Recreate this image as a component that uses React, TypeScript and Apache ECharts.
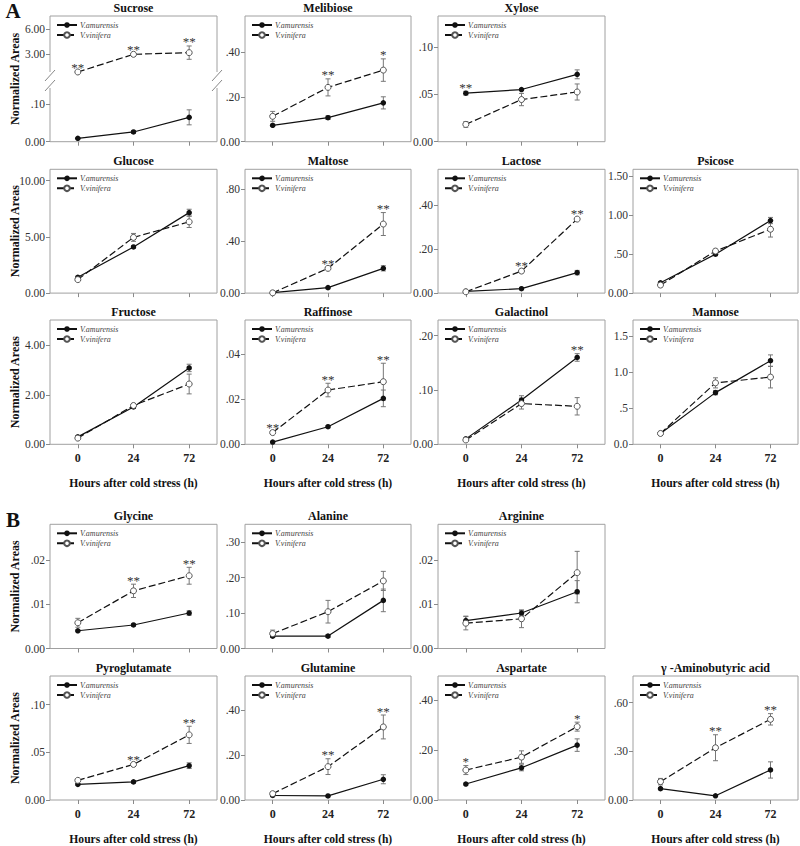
import React, { useEffect, useRef } from 'react';
import * as echarts from 'echarts';

const FONT = 'Liberation Serif';
const hours = ['0', '24', '72'];
const nameAmu = 'V.amurensis';
const nameVin = 'V.vinifera';
const yTitle = 'Normalized Areas';
const xTitle = 'Hours after cold stress (h)';

// ---- data (means and error bars) ----
const sucroseAmu = [0.009, 0.026, 0.065];
const sucroseAmuSE = [0.002, 0.003, 0.02];
const sucroseVin = [0.88, 3.0, 3.2];
const sucroseVinSE = [0.05, 0.1, 0.8];
const sucroseSig = ['**', '**', '**'];

const melibioseAmu = [0.073, 0.107, 0.173];
const melibioseAmuSE = [0.005, 0.008, 0.027];
const melibioseVin = [0.113, 0.242, 0.319];
const melibioseVinSE = [0.022, 0.038, 0.05];
const melibioseSig = ['', '**', '*'];

const xyloseAmu = [0.0513, 0.0552, 0.0713];
const xyloseAmuSE = [0.002, 0.001, 0.0047];
const xyloseVin = [0.0183, 0.0446, 0.0526];
const xyloseVinSE = [0.003, 0.0065, 0.0085];
const xyloseSig = ['**', '', ''];

const glucoseAmu = [1.4, 4.1, 7.15];
const glucoseAmuSE = [0.1, 0.1, 0.3];
const glucoseVin = [1.2, 4.95, 6.33];
const glucoseVinSE = [0.1, 0.35, 0.5];
const glucoseSig = ['', '', ''];

const maltoseAmu = [0.003, 0.042, 0.19];
const maltoseAmuSE = [0.002, 0.005, 0.02];
const maltoseVin = [0.002, 0.19, 0.53];
const maltoseVinSE = [0.002, 0.01, 0.088];
const maltoseSig = ['', '**', '**'];

const lactoseAmu = [0.008, 0.02, 0.093];
const lactoseAmuSE = [0.002, 0.003, 0.01];
const lactoseVin = [0.006, 0.1, 0.336];
const lactoseVinSE = [0.002, 0.006, 0.005];
const lactoseSig = ['', '**', '**'];

const psicoseAmu = [0.132, 0.5, 0.932];
const psicoseAmuSE = [0.01, 0.02, 0.04];
const psicoseVin = [0.103, 0.54, 0.82];
const psicoseVinSE = [0.01, 0.02, 0.1];
const psicoseSig = ['', '', ''];

const fructoseAmu = [0.3, 1.51, 3.09];
const fructoseAmuSE = [0.05, 0.06, 0.15];
const fructoseVin = [0.25, 1.57, 2.44];
const fructoseVinSE = [0.05, 0.06, 0.4];
const fructoseSig = ['', '', ''];

const raffinoseAmu = [0.001, 0.0078, 0.0204];
const raffinoseAmuSE = [0.0003, 0.0004, 0.0037];
const raffinoseVin = [0.0052, 0.0241, 0.0278];
const raffinoseVinSE = [0.0004, 0.003, 0.0082];
const raffinoseSig = ['**', '**', '**'];

const galactinolAmu = [0.01, 0.0815, 0.16];
const galactinolAmuSE = [0.002, 0.008, 0.007];
const galactinolVin = [0.008, 0.075, 0.07];
const galactinolVinSE = [0.002, 0.01, 0.016];
const galactinolSig = ['', '', '**'];

const mannoseAmu = [0.15, 0.715, 1.157];
const mannoseAmuSE = [0.01, 0.03, 0.08];
const mannoseVin = [0.15, 0.85, 0.93];
const mannoseVinSE = [0.01, 0.07, 0.15];
const mannoseSig = ['', '', ''];

const glycineAmu = [0.004, 0.0053, 0.008];
const glycineAmuSE = [0.0002, 0.0002, 0.0005];
const glycineVin = [0.0058, 0.013, 0.0164];
const glycineVinSE = [0.001, 0.0015, 0.0019];
const glycineSig = ['', '**', '**'];

const alanineAmu = [0.035, 0.035, 0.136];
const alanineAmuSE = [0.004, 0.004, 0.032];
const alanineVin = [0.042, 0.104, 0.191];
const alanineVinSE = [0.01, 0.032, 0.027];
const alanineSig = ['', '', ''];

const arginineAmu = [0.0063, 0.008, 0.0128];
const arginineAmuSE = [0.001, 0.0006, 0.0025];
const arginineVin = [0.0057, 0.0067, 0.0171];
const arginineVinSE = [0.0015, 0.002, 0.0048];
const arginineSig = ['', '', ''];

const pyroAmu = [0.0164, 0.019, 0.036];
const pyroAmuSE = [0.001, 0.001, 0.003];
const pyroVin = [0.0206, 0.0373, 0.0683];
const pyroVinSE = [0.001, 0.001, 0.009];
const pyroSig = ['', '**', '**'];

const glutamineAmu = [0.02, 0.018, 0.092];
const glutamineAmuSE = [0.003, 0.002, 0.02];
const glutamineVin = [0.028, 0.148, 0.324];
const glutamineVinSE = [0.003, 0.035, 0.053];
const glutamineSig = ['', '**', '**'];

const aspartateAmu = [0.064, 0.129, 0.22];
const aspartateAmuSE = [0.004, 0.012, 0.025];
const aspartateVin = [0.12, 0.172, 0.294];
const aspartateVinSE = [0.018, 0.025, 0.018];
const aspartateSig = ['*', '', '*'];

const gabaAmu = [0.07, 0.026, 0.185];
const gabaAmuSE = [0.005, 0.003, 0.05];
const gabaVin = [0.113, 0.322, 0.497];
const gabaVinSE = [0.02, 0.08, 0.035];
const gabaSig = ['', '**', '**'];

// ---- layout ----
const colLeft = [50, 245, 438, 633];
const colWidth = [167, 166, 167, 165];
const rowTop = [16, 169.3, 320, 524.3, 676];
const rowHeight = [125.7, 123.8, 124.3, 124.2, 124];
const bottomRows = [2, 4];

type Panel = {
  title: string; amu: number[]; amuSE: number[]; vin: number[]; vinSE: number[]; sig: string[];
  max: number; step: number; dec: number; row: number; col: number;
};

const panels: Panel[] = [
  { title: 'Melibiose', amu: melibioseAmu, amuSE: melibioseAmuSE, vin: melibioseVin, vinSE: melibioseVinSE, sig: melibioseSig, max: 0.56, step: 0.2, dec: 2, row: 0, col: 1 },
  { title: 'Xylose', amu: xyloseAmu, amuSE: xyloseAmuSE, vin: xyloseVin, vinSE: xyloseVinSE, sig: xyloseSig, max: 0.133, step: 0.05, dec: 2, row: 0, col: 2 },
  { title: 'Glucose', amu: glucoseAmu, amuSE: glucoseAmuSE, vin: glucoseVin, vinSE: glucoseVinSE, sig: glucoseSig, max: 11, step: 5, dec: 2, row: 1, col: 0 },
  { title: 'Maltose', amu: maltoseAmu, amuSE: maltoseAmuSE, vin: maltoseVin, vinSE: maltoseVinSE, sig: maltoseSig, max: 0.95, step: 0.4, dec: 2, row: 1, col: 1 },
  { title: 'Lactose', amu: lactoseAmu, amuSE: lactoseAmuSE, vin: lactoseVin, vinSE: lactoseVinSE, sig: lactoseSig, max: 0.562, step: 0.2, dec: 2, row: 1, col: 2 },
  { title: 'Psicose', amu: psicoseAmu, amuSE: psicoseAmuSE, vin: psicoseVin, vinSE: psicoseVinSE, sig: psicoseSig, max: 1.59, step: 0.5, dec: 2, row: 1, col: 3 },
  { title: 'Fructose', amu: fructoseAmu, amuSE: fructoseAmuSE, vin: fructoseVin, vinSE: fructoseVinSE, sig: fructoseSig, max: 5.03, step: 2, dec: 2, row: 2, col: 0 },
  { title: 'Raffinose', amu: raffinoseAmu, amuSE: raffinoseAmuSE, vin: raffinoseVin, vinSE: raffinoseVinSE, sig: raffinoseSig, max: 0.0552, step: 0.02, dec: 2, row: 2, col: 1 },
  { title: 'Galactinol', amu: galactinolAmu, amuSE: galactinolAmuSE, vin: galactinolVin, vinSE: galactinolVinSE, sig: galactinolSig, max: 0.229, step: 0.1, dec: 2, row: 2, col: 2 },
  { title: 'Mannose', amu: mannoseAmu, amuSE: mannoseAmuSE, vin: mannoseVin, vinSE: mannoseVinSE, sig: mannoseSig, max: 1.72, step: 0.5, dec: 1, row: 2, col: 3 },
  { title: 'Glycine', amu: glycineAmu, amuSE: glycineAmuSE, vin: glycineVin, vinSE: glycineVinSE, sig: glycineSig, max: 0.028, step: 0.01, dec: 2, row: 3, col: 0 },
  { title: 'Alanine', amu: alanineAmu, amuSE: alanineAmuSE, vin: alanineVin, vinSE: alanineVinSE, sig: alanineSig, max: 0.351, step: 0.1, dec: 2, row: 3, col: 1 },
  { title: 'Arginine', amu: arginineAmu, amuSE: arginineAmuSE, vin: arginineVin, vinSE: arginineVinSE, sig: arginineSig, max: 0.028, step: 0.01, dec: 2, row: 3, col: 2 },
  { title: 'Pyroglutamate', amu: pyroAmu, amuSE: pyroAmuSE, vin: pyroVin, vinSE: pyroVinSE, sig: pyroSig, max: 0.13, step: 0.05, dec: 2, row: 4, col: 0 },
  { title: 'Glutamine', amu: glutamineAmu, amuSE: glutamineAmuSE, vin: glutamineVin, vinSE: glutamineVinSE, sig: glutamineSig, max: 0.55, step: 0.2, dec: 2, row: 4, col: 1 },
  { title: 'Aspartate', amu: aspartateAmu, amuSE: aspartateAmuSE, vin: aspartateVin, vinSE: aspartateVinSE, sig: aspartateSig, max: 0.497, step: 0.2, dec: 2, row: 4, col: 2 },
  { title: 'γ -Aminobutyric acid', amu: gabaAmu, amuSE: gabaAmuSE, vin: gabaVin, vinSE: gabaVinSE, sig: gabaSig, max: 0.764, step: 0.3, dec: 2, row: 4, col: 3 },
];

const BORDER = '#a0a0a0';
const TICK = '#8a8a8a';

function fmt(dec: number) {
  return (v: number) => {
    if (Math.abs(v) < 1e-12) return (0).toFixed(dec);
    const s = v.toFixed(dec);
    return s.startsWith('0.') ? s.slice(1) : s;
  };
}

function ticksFor(max: number, step: number) {
  const out: number[] = [];
  for (let k = 0; k * step <= max + 1e-9; k++) out.push(+(k * step).toFixed(8));
  return out;
}

function errSeries(gi: number, vals: number[], se: number[], z: number) {
  return {
    type: 'custom', xAxisIndex: gi, yAxisIndex: gi, silent: true, z,
    itemStyle: { color: '#777' },
    encode: { x: 0, y: 1 },
    data: vals.map((v, i) => [i, v, se[i]]),
    renderItem: (params: any, api: any) => {
      const i = api.value(0), v = api.value(1), e = api.value(2);
      const t = api.coord([i, v + e]);
      const b = api.coord([i, Math.max(0, v - e)]);
      const w = 2.5;
      const style = { stroke: '#777', lineWidth: 1 };
      return {
        type: 'group',
        children: [
          { type: 'line', shape: { x1: t[0], y1: t[1], x2: b[0], y2: b[1] }, style },
          { type: 'line', shape: { x1: t[0] - w, y1: t[1], x2: t[0] + w, y2: t[1] }, style },
          { type: 'line', shape: { x1: b[0] - w, y1: b[1], x2: b[0] + w, y2: b[1] }, style },
        ],
      };
    },
  };
}

function sigSeries(gi: number, sig: string[], tops: number[]) {
  const data: any[] = [];
  sig.forEach((s, i) => { if (s) data.push([i, tops[i], s]); });
  return {
    type: 'custom', xAxisIndex: gi, yAxisIndex: gi, silent: true, z: 6,
    itemStyle: { color: '#333' },
    encode: { x: 0, y: 1 },
    data,
    renderItem: (params: any, api: any) => {
      const p = api.coord([api.value(0), api.value(1)]);
      return {
        type: 'text', x: p[0], y: p[1] - 4,
        style: { text: data[params.dataIndex][2], fontSize: 13, fontFamily: FONT, fill: '#333', align: 'center', verticalAlign: 'middle' },
      };
    },
  };
}

function lineSeries(gi: number, name: string, vals: number[], dashed: boolean) {
  return {
    type: 'line', name, xAxisIndex: gi, yAxisIndex: gi, data: vals, z: dashed ? 4 : 3,
    symbol: 'circle', symbolSize: dashed ? 6 : 5.5,
    lineStyle: { color: '#111', width: 1.2, type: dashed ? [7, 3] : 'solid' },
    itemStyle: dashed ? { color: '#fff', borderColor: '#555', borderWidth: 1 } : { color: '#111', borderWidth: 0 },
  };
}

function legendAt(left: number, top: number) {
  return {
    left: left + 6, top: top + 5, orient: 'vertical', padding: 0, itemGap: 2,
    itemWidth: 20, itemHeight: 7, selectedMode: false,
    data: [nameAmu, nameVin],
    textStyle: { fontFamily: FONT, fontStyle: 'italic', fontSize: 8, color: '#444', padding: [0, 0, 0, -2] },
  };
}

function buildOption() {
  const grid: any[] = [], xAxis: any[] = [], yAxis: any[] = [], series: any[] = [], legend: any[] = [], graphic: any[] = [];

  const xAxisFor = (gi: number, showLabels: boolean, show = true) => ({
    type: 'category', gridIndex: gi, data: hours, boundaryGap: true, show,
    axisLine: { show: false },
    axisTick: { show: true, alignWithLabel: true, length: 4, lineStyle: { color: TICK } },
    axisLabel: { show: showLabels, fontFamily: FONT, fontWeight: 'bold', fontSize: 12, color: '#222', margin: 8 },
  });
  const yAxisFor = (gi: number, max: number, ticks: number[], dec: number) => ({
    type: 'value', gridIndex: gi, min: 0, max,
    splitLine: { show: false },
    axisLine: { show: false },
    axisTick: { show: true, length: 4, customValues: ticks, lineStyle: { color: TICK } },
    axisLabel: { customValues: ticks, formatter: fmt(dec), fontFamily: FONT, fontSize: 11.5, color: '#333', margin: 5 },
  });

  // ---- Sucrose: broken axis (two stacked grids) ----
  {
    const L = colLeft[0], W = colWidth[0], T = rowTop[0], H = rowHeight[0];
    const upperH = 63.3;
    const lowerTop = 90;
    grid.push({ left: L, top: T, width: W, height: upperH, show: false });
    xAxis.push(xAxisFor(0, false, false));
    yAxis.push(yAxisFor(0, 7.6, [3, 6], 2));
    grid.push({ left: L, top: lowerTop, width: W, height: T + H - lowerTop, show: false });
    xAxis.push(xAxisFor(1, false));
    yAxis.push(yAxisFor(1, 0.138, [0, 0.1], 2));
    series.push(errSeries(1, sucroseAmu, sucroseAmuSE, 2));
    series.push(lineSeries(1, nameAmu, sucroseAmu, false));
    series.push(errSeries(0, sucroseVin, sucroseVinSE, 2));
    series.push(lineSeries(0, nameVin, sucroseVin, true));
    series.push(sigSeries(0, sucroseSig, sucroseVin.map((v, i) => v + sucroseVinSE[i])));
    legend.push(legendAt(L, T));
    const st = { stroke: BORDER, lineWidth: 1 };
    const B = T + H;
    const seg = (x1: number, y1: number, x2: number, y2: number) => graphic.push({ type: 'line', silent: true, shape: { x1, y1, x2, y2 }, style: st });
    seg(L, T, L + W, T);
    seg(L, B, L + W, B);
    seg(L, T, L, 72);
    seg(L, 88, L, B);
    seg(L + W, T, L + W, 72);
    seg(L + W, 88, L + W, B);
    const sl = { stroke: '#888', lineWidth: 1 };
    [L, L + W].forEach((x) => {
      graphic.push({ type: 'line', silent: true, shape: { x1: x - 5, y1: 81, x2: x + 5, y2: 70 }, style: sl });
      graphic.push({ type: 'line', silent: true, shape: { x1: x - 5, y1: 91, x2: x + 5, y2: 80 }, style: sl });
    });
    graphic.push({ type: 'text', silent: true, x: L + W / 2, y: T - 8.5, style: { text: 'Sucrose', fontFamily: FONT, fontWeight: 'bold', fontSize: 12, fill: '#111', align: 'center', verticalAlign: 'middle' } });
  }

  // ---- regular panels ----
  panels.forEach((p) => {
    const gi = grid.length;
    const L = colLeft[p.col], W = colWidth[p.col], T = rowTop[p.row], H = rowHeight[p.row];
    const bottom = bottomRows.includes(p.row);
    grid.push({ left: L, top: T, width: W, height: H, show: true, borderColor: BORDER, borderWidth: 1, backgroundColor: 'transparent' });
    xAxis.push(xAxisFor(gi, bottom));
    yAxis.push(yAxisFor(gi, p.max, ticksFor(p.max, p.step), p.dec));
    series.push(errSeries(gi, p.amu, p.amuSE, 2));
    series.push(errSeries(gi, p.vin, p.vinSE, 2));
    series.push(lineSeries(gi, nameAmu, p.amu, false));
    series.push(lineSeries(gi, nameVin, p.vin, true));
    const tops = p.amu.map((v, i) => Math.max(v + p.amuSE[i], p.vin[i] + p.vinSE[i]));
    series.push(sigSeries(gi, p.sig, tops));
    legend.push(legendAt(L, T));
    graphic.push({ type: 'text', silent: true, x: L + W / 2, y: T - 8.5, style: { text: p.title, fontFamily: FONT, fontWeight: 'bold', fontSize: 12, fill: '#111', align: 'center', verticalAlign: 'middle' } });
    if (bottom) {
      graphic.push({ type: 'text', silent: true, x: L + W / 2, y: T + H + 39, style: { text: xTitle, fontFamily: FONT, fontWeight: 'bold', fontSize: 11.6, fill: '#111', align: 'center', verticalAlign: 'middle' } });
    }
  });

  rowTop.forEach((t, r) => {
    graphic.push({ type: 'text', silent: true, x: 15, y: t + rowHeight[r] / 2, rotation: Math.PI / 2, style: { text: yTitle, fontFamily: FONT, fontWeight: 'bold', fontSize: 12, fill: '#111', align: 'center', verticalAlign: 'middle' } });
  });
  graphic.push({ type: 'text', silent: true, x: 13, y: 11, style: { text: 'A', fontFamily: FONT, fontWeight: 'bold', fontSize: 21, fill: '#111', align: 'center', verticalAlign: 'middle' } });
  graphic.push({ type: 'text', silent: true, x: 13, y: 520, style: { text: 'B', fontFamily: FONT, fontWeight: 'bold', fontSize: 21, fill: '#111', align: 'center', verticalAlign: 'middle' } });

  return {
    animation: false,
    backgroundColor: '#fff',
    textStyle: { fontFamily: FONT },
    grid, xAxis, yAxis, series, legend,
    graphic: { elements: graphic },
  };
}

export default function App() {
  const ref = useRef<HTMLDivElement>(null);
  useEffect(() => {
    if (!ref.current) return;
    const chart = echarts.init(ref.current, undefined, { renderer: 'svg' });
    chart.setOption(buildOption() as any);
    return () => chart.dispose();
  }, []);
  return <div ref={ref} style={{ position: 'absolute', left: 0, top: 0, width: 800, height: 846 }} />;
}
